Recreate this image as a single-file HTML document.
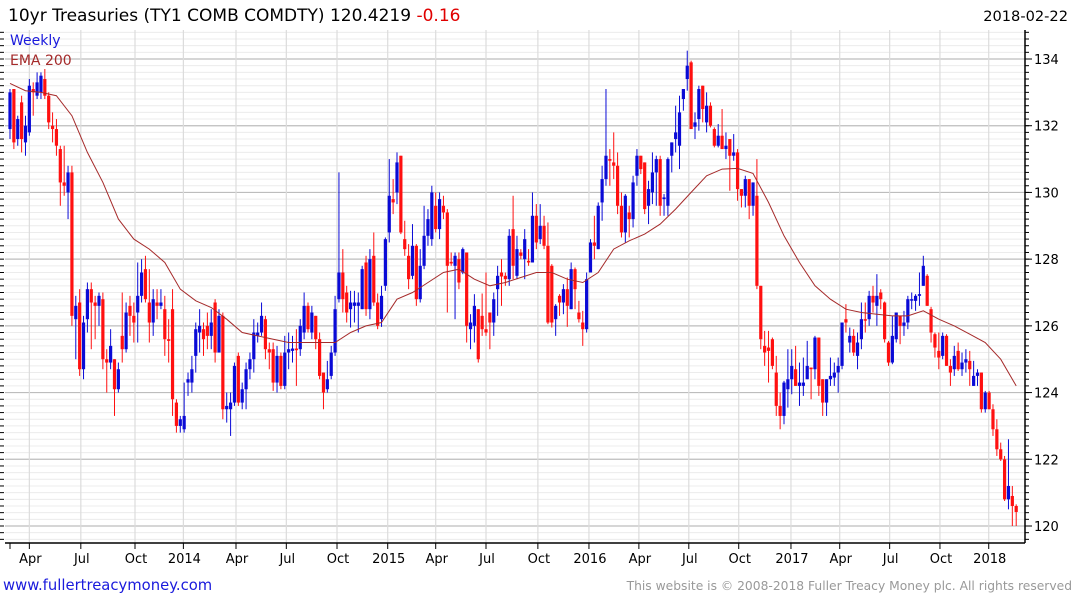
<!DOCTYPE html>
<html><head><meta charset="utf-8">
<style>
html,body{margin:0;padding:0;background:#fff;}
svg{display:block;font-family:"DejaVu Sans","Liberation Sans",sans-serif;}
</style></head>
<body>
<svg id="chart" width="1075" height="600" viewBox="0 0 1075 600" xmlns="http://www.w3.org/2000/svg">
<rect x="0" y="0" width="1075" height="600" fill="#fff"/>
<g id="grid"></g>
<g id="candles"></g>
<g id="ema"></g>
<g id="axes"></g>
<text x="8" y="21" font-size="17" fill="#000">10yr Treasuries (TY1 COMB COMDTY) 120.4219 <tspan fill="#e00000">-0.16</tspan></text>
<text x="1068" y="21" font-size="14.6" text-anchor="end" fill="#000">2018-02-22</text>
<text x="10" y="45" font-size="14" fill="#1a1adc">Weekly</text>
<text x="10" y="65" font-size="14" fill="#a52a2a">EMA 200</text>
<text x="3" y="590" font-size="14.8" fill="#1a1adc">www.fullertreacymoney.com</text>
<text x="1072" y="590" font-size="12.3" text-anchor="end" fill="#999">This website is © 2008-2018 Fuller Treacy Money plc. All rights reserved</text>
</svg>
<script>
const opens=[131.9,133.1,131.6,132.7,131.5,131.8,133.1,132.9,133.0,133.4,132.9,132.0,131.9,131.3,130.3,130.0,130.6,126.2,126.7,124.7,126.2,127.1,126.7,126.6,126.8,125.0,124.9,125.0,124.1,125.7,125.3,126.6,126.3,126.4,126.9,127.7,126.7,126.1,126.7,126.6,126.5,125.6,126.5,123.7,123.0,122.9,124.3,124.3,125.1,125.8,125.9,126.0,125.7,126.7,125.2,126.3,123.5,123.5,123.7,125.1,123.7,124.1,124.7,125.0,125.7,125.8,126.2,125.3,
125.3,124.3,125.1,124.2,125.2,125.25,125.32,125.3,125.8,126.6,125.8,126.3,125.6,124.6,124.1,124.5,125.2,126.8,127.6,127.0,126.5,126.6,126.6,126.5,127.9,126.5,128.1,126.7,126.2,127.2,128.8,129.8,130.0,131.1,128.6,128.1,127.5,128.4,126.8,127.8,128.7,128.6,129.6,128.9,129.6,129.4,127.92,127.8,128.0,127.6,128.2,125.9,126.0,126.5,126.3,125.9,126.4,126.1,127.1,127.6,127.5,127.4,128.9,127.5,128.2,128.0,127.95,
127.9,129.3,128.6,129.0,128.4,127.8,126.2,126.9,126.7,127.1,126.5,127.7,126.4,126.1,125.9,127.6,128.5,128.3,129.7,130.4,131.0,130.9,130.8,129.6,128.8,129.4,129.2,130.5,131.1,130.9,129.6,130.0,130.6,131.0,129.8,129.6,131.1,131.6,131.4,132.8,133.4,133.9,131.97,132.2,133.2,132.1,132.6,131.9,131.4,131.7,131.3,131.6,131.1,131.2,130.1,129.9,130.4,129.6,129.9,
127.2,125.4,125.35,125.6,124.6,123.6,123.3,124.1,124.4,124.7,124.2,124.2,124.4,124.75,124.7,125.65,124.4,123.7,124.4,124.45,124.6,124.8,126.2,125.5,125.7,125.1,125.6,126.2,126.2,126.9,126.6,127.0,126.7,125.5,124.9,125.6,126.3,126.0,126.1,126.8,126.75,126.9,127.2,127.5,126.5,125.75,125.25,125.1,125.7,124.8,124.7,125.25,124.7,124.9,124.95,124.2,124.5,124.6,123.5,124.0,123.5,122.9,122.3,122.0,120.8,120.9,120.6];
const highs=[133.1,133.1,132.3,132.9,132.3,133.4,133.3,133.6,133.6,133.7,133.0,132.4,132.2,131.4,131.4,130.8,130.8,126.9,127.1,126.3,127.3,127.3,126.9,127.0,127.0,125.3,125.9,125.0,124.9,127.0,126.7,126.9,126.7,127.9,128.0,128.1,127.7,127.1,127.1,127.1,126.9,126.2,127.1,123.8,123.3,124.3,124.6,125.1,126.1,126.5,126.1,126.4,126.5,126.8,126.5,126.4,124.0,124.0,124.9,125.2,124.3,124.9,125.2,126.2,126.1,126.7,126.3,125.5,
125.5,125.4,125.2,125.7,125.8,125.7,125.9,126.2,127.0,126.7,126.6,126.3,125.8,124.6,124.95,125.4,126.9,130.6,128.3,127.2,127.05,127.05,127.0,127.8,128.1,128.3,128.8,126.97,127.2,128.65,131.0,130.4,131.2,131.1,129.15,128.45,129.05,128.45,128.3,129.6,129.5,130.2,130.0,130.0,129.9,129.5,128.2,128.2,128.2,128.35,128.2,126.35,126.95,126.5,126.97,127.6,126.4,127.0,127.8,128.0,127.6,128.9,129.9,128.7,128.3,128.9,128.3,
130.0,129.65,129.65,129.3,129.1,127.85,126.65,126.95,127.25,127.45,127.9,127.75,126.75,126.45,127.6,128.6,129.3,129.7,130.8,133.1,131.3,131.8,131.2,130.0,129.95,129.6,130.5,131.3,131.1,130.9,130.35,131.2,131.1,131.1,129.95,131.05,131.5,132.6,132.9,133.1,134.25,133.95,132.4,133.2,133.2,133.0,132.7,131.95,132.05,132.5,131.8,131.6,131.75,131.3,130.1,130.5,130.4,130.3,131.0,
127.2,125.85,125.85,125.65,125.1,124.0,124.35,125.3,125.3,125.4,124.9,125.05,125.55,124.75,125.7,125.65,124.4,124.4,125.05,124.9,125.05,126.1,126.65,125.95,125.9,125.8,126.7,126.7,127.05,127.2,127.55,127.1,126.73,125.55,126.3,126.4,126.3,126.45,126.9,127.0,126.95,127.6,128.1,127.55,126.57,125.8,125.8,125.8,125.75,125.0,125.4,125.5,125.2,125.3,125.25,124.95,124.7,124.6,124.05,124.05,123.65,123.2,122.5,122.1,122.6,121.2,120.65];
const lows=[131.6,131.3,131.4,131.2,131.1,131.7,132.3,132.8,132.8,132.8,131.9,131.5,131.1,129.6,129.9,129.2,126.0,125.0,124.5,124.4,125.8,125.3,125.6,126.0,124.7,124.0,124.7,123.3,124.0,124.9,125.2,125.7,125.5,125.5,126.7,126.7,125.5,125.7,126.2,126.5,125.1,124.9,123.3,122.8,122.8,122.8,123.9,124.0,124.6,125.2,125.1,125.3,125.3,124.9,125.2,123.2,123.1,122.7,123.6,123.6,123.5,123.5,124.4,124.6,125.5,125.7,125.0,124.7,
124.05,124.0,124.1,124.1,124.7,124.9,124.2,125.1,125.6,125.8,125.6,125.3,124.4,123.5,124.0,124.4,125.1,126.7,126.4,126.1,125.95,126.1,125.8,126.5,126.3,126.2,126.6,125.9,125.97,127.05,128.5,129.35,129.65,128.75,128.1,127.1,127.4,126.6,126.7,127.7,128.4,128.4,128.8,128.6,129.2,126.4,127.8,126.2,127.1,127.55,125.5,125.3,125.5,124.9,125.7,125.7,125.3,125.7,126.3,126.6,127.2,127.2,127.4,127.4,128.0,127.4,127.8,
127.9,128.3,128.45,128.3,126.05,125.95,125.7,126.3,126.35,125.97,126.5,126.5,126.1,125.4,125.8,127.6,128.0,128.3,129.15,130.2,130.2,130.4,129.35,128.65,128.5,128.65,128.95,130.2,130.55,129.35,129.05,129.65,129.6,129.3,129.3,129.3,130.6,131.2,130.7,132.45,133.05,131.9,131.6,131.85,132.1,131.8,131.95,131.35,131.35,131.3,131.0,130.05,130.95,129.75,129.55,129.55,129.2,129.3,127.1,
125.3,124.8,124.3,124.7,123.3,122.9,123.05,123.55,123.95,124.2,123.6,123.9,124.4,123.8,124.4,123.9,123.3,123.3,124.2,124.2,124.0,124.7,125.8,125.2,125.1,124.7,125.3,125.8,126.0,126.4,126.0,126.5,125.5,124.8,124.85,125.5,125.45,125.7,125.9,126.5,126.45,126.6,127.2,126.6,125.5,125.05,124.7,125.0,124.8,124.2,124.5,124.65,124.5,124.6,124.2,124.2,124.2,123.4,123.4,123.5,122.7,122.1,121.95,120.75,120.5,120.0,120.0];
const closes=[133.0,131.5,132.2,131.6,132.0,133.2,133.0,133.3,133.5,132.9,132.1,131.9,131.4,130.3,130.2,130.6,126.3,126.6,124.7,126.1,127.1,126.7,126.6,126.9,125.0,124.9,125.4,124.1,124.7,125.3,126.4,126.3,126.1,126.9,127.6,126.8,126.1,126.8,126.6,126.7,125.6,125.55,123.8,123.0,123.2,123.3,124.4,124.7,125.9,126.0,125.6,125.7,126.1,125.2,126.3,123.5,123.6,123.7,124.8,123.7,124.1,124.7,125.0,125.8,125.8,126.3,125.3,125.2,
124.3,125.1,124.2,125.2,125.3,125.32,125.27,126.0,126.6,125.9,126.4,125.6,124.5,124.0,124.4,125.2,126.5,127.6,126.8,126.4,126.7,126.7,126.7,127.7,126.5,128.0,126.7,126.0,126.9,128.6,129.9,129.7,130.9,128.8,128.3,127.4,128.4,126.8,127.8,128.7,129.2,130.0,128.9,129.8,129.4,127.8,127.87,128.1,127.3,128.3,126.0,126.1,126.6,125.0,125.9,125.8,126.1,126.8,127.5,127.48,127.4,128.7,127.8,128.3,128.1,128.6,127.9,
129.3,128.5,129.0,128.4,126.1,126.1,126.6,126.7,127.1,126.6,127.7,127.1,126.2,125.9,127.4,128.5,128.4,129.6,130.4,131.1,130.95,130.8,129.6,128.8,129.9,129.2,130.3,131.1,130.7,129.5,130.1,130.6,131.0,129.6,129.85,131.0,131.5,131.8,132.4,133.1,133.8,131.9,132.1,133.1,132.5,132.6,132.0,131.4,131.7,131.3,131.4,131.1,131.2,130.1,129.9,130.4,129.6,130.3,127.2,
125.6,125.2,125.25,124.8,123.6,123.3,124.3,124.4,124.8,124.2,124.3,124.3,124.8,124.7,125.65,124.2,123.7,124.4,124.5,124.6,124.8,126.1,126.1,125.7,125.2,125.5,126.2,126.18,126.9,126.7,126.9,126.8,125.6,124.9,125.7,126.4,126.0,126.1,126.8,126.8,126.9,126.95,127.8,126.6,125.8,125.35,125.05,125.7,124.8,124.6,125.1,124.7,124.9,125.0,124.7,124.5,124.6,123.5,124.0,123.5,122.9,122.3,122.0,120.8,121.2,120.6,120.42];
// EMA 200 read every 4th week (week index = 4*k)
const emaValues=[133.27,133.05,133.0,132.9,132.3,131.2,130.3,129.2,128.6,128.3,127.9,127.1,126.75,126.55,126.2,125.8,125.7,125.6,125.5,125.5,125.5,125.5,125.8,126.0,126.1,126.8,127.0,127.3,127.6,127.7,127.4,127.2,127.3,127.45,127.6,127.6,127.4,127.3,127.6,128.3,128.55,128.75,129.05,129.5,130.0,130.5,130.7,130.72,130.57,129.7,128.7,127.9,127.2,126.8,126.5,126.4,126.35,126.3,126.3,126.45,126.2,126.0,125.75,125.5,125.0,124.2];
const emaStep=4;
const xTickLabels=["Apr","Jul","Oct","2014","Apr","Jul","Oct","2015","Apr","Jul","Oct","2016","Apr","Jul","Oct","2017","Apr","Jul","Oct","2018"];
const xTickWeeks=[5.0,18.3,32.3,44.8,58.4,71.4,84.5,97.6,110.0,123.0,136.4,149.6,162.5,175.4,188.3,201.8,214.4,227.3,240.3,252.9];
const yTickValues=[120,122,124,126,128,130,132,134];

const NS="http://www.w3.org/2000/svg";
const PL=5, PR=1025, PT=30, PB=543;
function xScale(i){return 10+3.87*i;}
function yScale(v){return 526-(v-120)*33.357;}
function mk(tag,attrs,parent){const e=document.createElementNS(NS,tag);for(const k in attrs)e.setAttribute(k,attrs[k]);parent.appendChild(e);return e;}

const grid=document.getElementById('grid');
for(let v=119.6; v<=134.8; v+=0.2){
  const y=yScale(v); if(y<PT||y>PB) continue;
  const major=Math.abs(v/2-Math.round(v/2))<0.01;
  const l=mk('line',{x1:PL,x2:PR,y1:y,y2:y,stroke:major?'#bdbdbd':'#ececec','stroke-width':major?1.2:1},grid);
  
  
}
xTickWeeks.forEach((w)=>{
  const x=xScale(w);
  const l=mk('line',{x1:x,x2:x,y1:PT,y2:PB,stroke:'#dcdcdc','stroke-width':1.2},grid);
  
  
});

const cg=document.getElementById('candles');
for(let i=0;i<closes.length;i++){
  const x=xScale(i);
  const up=closes[i]>=opens[i];
  const col=up?'#0a0ad6':'#ff1010';
  const g=mk('g',{},cg);
  
  
  mk('line',{x1:x,x2:x,y1:yScale(highs[i]),y2:yScale(lows[i]),stroke:col,'stroke-width':1},g);
  const yt=yScale(Math.max(opens[i],closes[i])), yb=yScale(Math.min(opens[i],closes[i]));
  mk('rect',{x:x-1.6,y:yt,width:3.2,height:Math.max(1.5,yb-yt),fill:col},g);
}

const eg=document.getElementById('ema');
const pts=emaValues.map((v,k)=>xScale(k*emaStep).toFixed(1)+','+yScale(v).toFixed(1)).join(' ');
const pl=mk('polyline',{points:pts,fill:'none',stroke:'#a52a2a','stroke-width':1},eg);



const ax=document.getElementById('axes');
const ra=mk('line',{x1:PR,x2:PR,y1:PT,y2:PB,stroke:'#000','stroke-width':1.5},ax);


const ba=mk('line',{x1:PL,x2:PR,y1:PB,y2:PB,stroke:'#000','stroke-width':1.5},ax);


for(let v=119.6; v<=134.8; v+=0.2){
  const y=yScale(v); if(y<PT||y>PB) continue;
  mk('line',{x1:PR,x2:PR+4,y1:y,y2:y,stroke:'#000','stroke-width':1},ax);
  mk('line',{x1:0,x2:4,y1:y,y2:y,stroke:'#000','stroke-width':1},ax);
}
yTickValues.forEach(v=>{
  const y=yScale(v);
  mk('line',{x1:PR,x2:PR+7,y1:y,y2:y,stroke:'#000','stroke-width':1},ax);
  const t=mk('text',{x:PR+9,y:y+5,'font-size':13,fill:'#000'},ax);
  t.textContent=String(v);
  
  
});
xTickWeeks.forEach((w,j)=>{
  const x=xScale(w);
  mk('line',{x1:x,x2:x,y1:PB,y2:PB+6,stroke:'#000','stroke-width':1},ax);
  const t=mk('text',{x:x+1,y:563,'font-size':13,'text-anchor':'middle',fill:'#000'},ax);
  t.textContent=xTickLabels[j];
  
  
});
mk('line',{x1:10,x2:10,y1:PB,y2:PB+6,stroke:'#000','stroke-width':1},ax);
</script>
</body></html>
